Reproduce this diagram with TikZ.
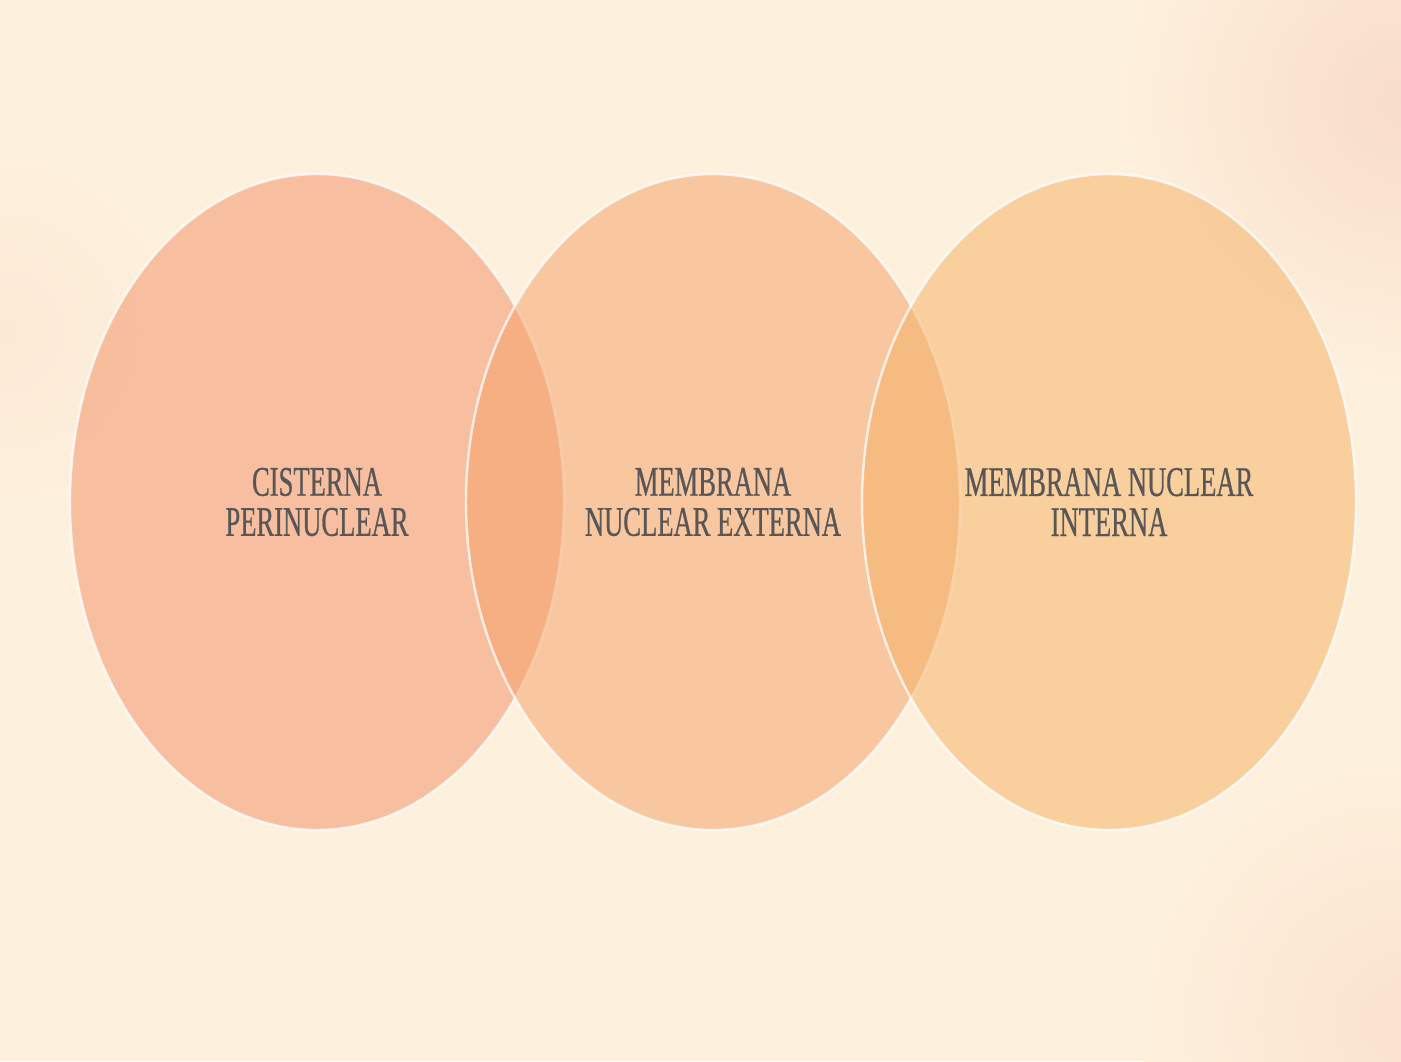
\documentclass[tikz,border=0pt]{standalone}
\usepackage{fontspec}
\setmainfont{Liberation Serif}[FakeStretch=0.63, FakeBold=0.6]
\usetikzlibrary{shapes.geometric}

\definecolor{cream}{RGB}{253,240,220}
\definecolor{blush}{RGB}{248,220,202}
\definecolor{salmon}{RGB}{243,144,100}
\definecolor{peach}{RGB}{245,160,102}
\definecolor{apricot}{RGB}{246,176,98}
\definecolor{labelgray}{RGB}{88,86,86}

\tikzset{
    ring/.style = {ellipse, minimum width = 4.94cm, minimum height = 6.56cm,
        fill opacity = 0.5, draw = white, draw opacity = 0.75, line width = 0.7pt,
        text opacity = 1, text = labelgray, align = center,
        font = \fontsize{12}{11.4}\selectfont, inner sep = 0pt}
}

\begin{document}
\begin{tikzpicture}
        \useasboundingbox (0, 0) rectangle (14.01, 10.61);
        % Background
        \fill[cream] (0, 0) rectangle (14.01, 10.61);
        \shade[inner color = blush, outer color = cream] (14.01, 9.6) circle (2.8);
        \shade[inner color = blush!70!cream, outer color = cream] (14.01, 0.4) circle (2.6);
        \shade[inner color = blush!35!cream, outer color = cream] (0, 7.3) circle (1.8);

        % Rings
        \node[ring, fill = salmon] (cist) at (3.17, 5.59) {CISTERNA\\PERINUCLEAR};
        \node[ring, fill = peach] (ext) at (7.13, 5.59) {MEMBRANA\\NUCLEAR EXTERNA};
        \node[ring, fill = apricot] (int) at (11.09, 5.59) {MEMBRANA NUCLEAR\\INTERNA};
    \end{tikzpicture}
\end{document}
